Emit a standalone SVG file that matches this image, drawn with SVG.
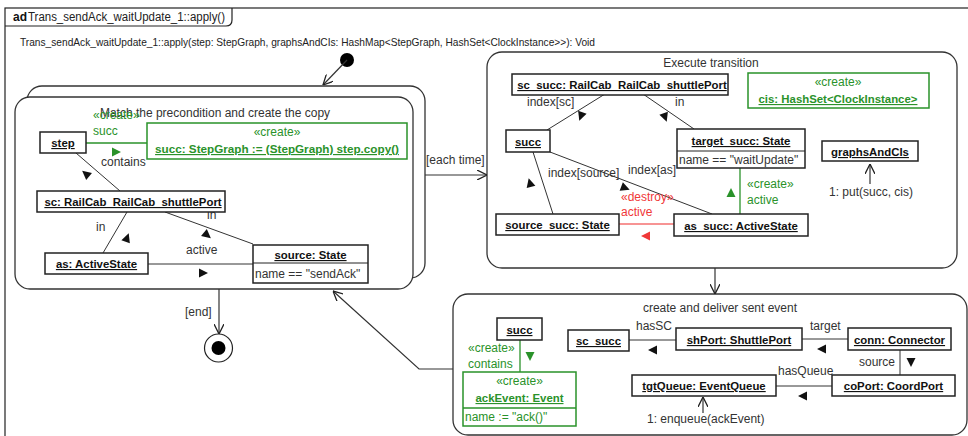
<svg xmlns="http://www.w3.org/2000/svg" xmlns:xlink="http://www.w3.org/1999/xlink" width="968" height="436" viewBox="0 0 968 436">
<style>
text { font-family: "Liberation Sans", Arial, sans-serif; font-size: 12px; fill: #333; }
.nm { font-weight: bold; font-size: 11.4px; text-decoration: underline; text-anchor: middle; fill: #111; }
.c { text-anchor: middle; }
.g { fill: #2a922a; }
.r { fill: #f03838; }
.box { fill: #fff; stroke: #222; stroke-width: 1.5; }
.gbox { fill: #fff; stroke: #2a922a; stroke-width: 1.5; }
.act { fill: #fff; stroke: #333; stroke-width: 1.3; }
.ln { stroke: #333; stroke-width: 1; fill: none; }
.gl { stroke: #2a922a; stroke-width: 1.3; fill: none; }
.rl { stroke: #f57070; stroke-width: 1.5; fill: none; }
.gy { stroke: #777; stroke-width: 1.5; fill: none; }
.arr { stroke: #333; stroke-width: 1.2; fill: none; marker-end: url(#oa); }
</style>
<defs>
<marker id="oa" viewBox="0 0 10 10" refX="10" refY="5" markerWidth="10" markerHeight="10" markerUnits="userSpaceOnUse" orient="auto">
<path d="M0,0 L10,5 L0,10" fill="none" stroke="#222" stroke-width="1.3"/>
</marker>
<path id="tri" d="M-4,-4.5 L5,0 L-4,4.5 Z"/>
</defs>
<rect width="968" height="436" fill="#fff"/>

<g id="frame">
<rect x="5" y="8" width="990" height="440" fill="none" stroke="#222" stroke-width="1.2"/>
<path d="M5,26 H226 Q232,26 232,20 V8" fill="none" stroke="#222" stroke-width="1.2"/>
<text x="13" y="21" style="font-weight:bold;fill:#111">ad</text>
<text x="28" y="21" style="fill:#222" textLength="197" lengthAdjust="spacingAndGlyphs">Trans_sendAck_waitUpdate_1::apply()</text>
<text x="20" y="46" style="fill:#222;font-size:11.6px" textLength="575" lengthAdjust="spacingAndGlyphs">Trans_sendAck_waitUpdate_1::apply(step: StepGraph, graphsAndCIs: HashMap&lt;StepGraph, HashSet&lt;ClockInstance&gt;&gt;): Void</text>
</g>

<g id="initial"><circle cx="347" cy="60" r="7" fill="#000"/></g>

<g id="match">
<rect class="act" x="27" y="86" width="398" height="192" rx="15"/>
<rect class="act" x="15" y="97" width="398" height="192" rx="15"/>
<text class="c" x="215" y="117">Match the precondition and create the copy</text>
</g>

<g id="match-links">
<line class="gl" x1="86" y1="143" x2="147" y2="143"/>
<text x="93" y="119" class="g">«create»</text>
<text x="93" y="135" class="g">succ</text>
<use href="#tri" transform="translate(116,152)" fill="#2a922a"/>
<text x="101" y="166">contains</text>
<line class="ln" x1="76" y1="153" x2="120" y2="191"/>
<use href="#tri" transform="translate(86,174) rotate(220)" fill="#111"/>
<line class="ln" x1="127" y1="212" x2="103" y2="253"/>
<text x="96" y="231">in</text>
<use href="#tri" transform="translate(127,238) rotate(-70)" fill="#111"/>
<line class="ln" x1="165" y1="212" x2="253" y2="244"/>
<text x="207" y="219">in</text>
<use href="#tri" transform="translate(207,235) rotate(40)" fill="#111"/>
<text x="186" y="254">active</text>
<line class="ln" x1="148" y1="264" x2="253" y2="264"/>
<use href="#tri" transform="translate(203,273)" fill="#111"/>
</g>

<g id="step"><rect class="box" x="40" y="132" width="46" height="21"/><text class="nm" x="63" y="147">step</text></g>
<g id="succ-copy"><rect class="gbox" x="147" y="123" width="260" height="36"/><text class="c g" x="277" y="136">«create»</text><text class="nm g" x="277" y="153" style="fill:#2a922a;font-size:11.7px">succ: StepGraph := (StepGraph) step.copy()</text></g>
<g id="sc"><rect class="box" x="37" y="191" width="188" height="21"/><text class="nm" x="133" y="206">sc: RailCab_RailCab_shuttlePort</text></g>
<g id="as"><rect class="box" x="45" y="253" width="103" height="21"/><text class="nm" x="96.5" y="268">as: ActiveState</text></g>
<g id="source"><rect class="box" x="253" y="245" width="115" height="38"/><line class="ln" x1="253" y1="263" x2="368" y2="263" style="stroke:#222"/><text class="nm" x="310.5" y="259">source: State</text><text x="255" y="278">name == "sendAck"</text></g>

<g id="final"><circle cx="218.5" cy="348" r="14" fill="#fff" stroke="#222" stroke-width="1.2"/><circle cx="218.5" cy="348" r="7" fill="#000"/></g>

<g id="execute">
<rect class="act" x="487" y="52" width="470" height="216" rx="15"/>
<text class="c" x="711" y="67">Execute transition</text>
</g>
<g id="exec-links">
<line class="ln" x1="605" y1="94" x2="547" y2="130"/>
<text x="527" y="106">index[sc]</text>
<use href="#tri" transform="translate(581,116) rotate(110)" fill="#111"/>
<line class="ln" x1="643" y1="94" x2="694" y2="129"/>
<text x="675" y="106">in</text>
<use href="#tri" transform="translate(665,117) rotate(70)" fill="#111"/>
<line class="ln" x1="533" y1="152" x2="553" y2="214"/>
<use href="#tri" transform="translate(530,183) rotate(-105)" fill="#111"/>
<text x="548" y="177">index[source]</text>
<line class="ln" x1="550" y1="152" x2="712" y2="214"/>
<text x="628" y="174">index[as]</text>
<use href="#tri" transform="translate(625,188) rotate(21)" fill="#111"/>
<line class="rl" x1="619" y1="224" x2="674" y2="224"/>
<text x="621" y="201" class="r">«destroy»</text>
<text x="621" y="216" class="r">active</text>
<use href="#tri" transform="translate(646,236) rotate(180)" fill="#f03838"/>
<line class="gl" x1="740" y1="168" x2="740" y2="214"/>
<use href="#tri" transform="translate(731,193) rotate(-90)" fill="#2a922a"/>
<text x="747" y="188" class="g">«create»</text>
<text x="747" y="204" class="g">active</text>
<line class="arr" x1="870" y1="184" x2="870" y2="164"/>
<text x="829" y="196">1: put(succ, cis)</text>
</g>
<g id="sc_succ"><rect class="box" x="512" y="74" width="216" height="21"/><text class="nm" x="622" y="89">sc_succ: RailCab_RailCab_shuttlePort</text></g>
<g id="cis"><rect class="gbox" x="748" y="73" width="181" height="35"/><text class="c g" x="838" y="86">«create»</text><text class="nm" x="838" y="103" style="fill:#2a922a">cis: HashSet&lt;ClockInstance&gt;</text></g>
<g id="succ1"><rect class="box" x="506" y="130" width="44" height="22"/><text class="nm" x="528" y="146">succ</text></g>
<g id="target_succ"><rect class="box" x="677" y="129" width="128" height="39"/><line x1="677" y1="151" x2="805" y2="151" stroke="#222" stroke-width="1"/><text class="nm" x="741" y="145">target_succ: State</text><text x="679" y="164">name == "waitUpdate"</text></g>
<g id="graphsAndCIs"><rect class="box" x="822" y="141" width="96" height="20"/><text class="nm" x="870" y="156">graphsAndCIs</text></g>
<g id="source_succ"><rect class="box" x="496" y="214" width="123" height="21"/><text class="nm" x="557.5" y="229">source_succ: State</text></g>
<g id="as_succ"><rect class="box" x="674" y="214" width="134" height="22"/><text class="nm" x="741" y="230">as_succ: ActiveState</text></g>

<g id="deliver">
<rect class="act" x="453" y="294" width="514" height="141" rx="15"/>
<text class="c" x="720" y="312">create and deliver sent event</text>
</g>
<g id="deliver-links">
<line class="gl" x1="520" y1="340" x2="520" y2="372"/>
<text x="468" y="352" class="g">«create»</text>
<text x="468" y="368" class="g">contains</text>
<use href="#tri" transform="translate(530,356) rotate(90)" fill="#2a922a"/>
<line class="ln" x1="629" y1="340" x2="676" y2="340"/>
<text x="636" y="330">hasSC</text>
<use href="#tri" transform="translate(653,350) rotate(180)" fill="#111"/>
<line class="ln" x1="802" y1="339" x2="848" y2="339"/>
<text x="810" y="330">target</text>
<use href="#tri" transform="translate(822,349) rotate(180)" fill="#111"/>
<line class="gy" x1="900" y1="350" x2="900" y2="375"/>
<text x="859" y="366">source</text>
<use href="#tri" transform="translate(911,362) rotate(90)" fill="#111"/>
<line class="ln" x1="776" y1="386" x2="832" y2="386"/>
<text x="778" y="375">hasQueue</text>
<use href="#tri" transform="translate(803,396) rotate(180)" fill="#111"/>
<line class="arr" x1="703" y1="413" x2="703" y2="397"/>
<text x="647" y="423">1: enqueue(ackEvent)</text>
</g>
<g id="succ2"><rect class="box" x="497" y="318" width="45" height="22"/><text class="nm" x="519.5" y="334">succ</text></g>
<g id="ackEvent"><rect class="gbox" x="463" y="372" width="113" height="54"/><line x1="463" y1="408" x2="576" y2="408" stroke="#2a922a" stroke-width="1.3"/><text class="c g" x="519.5" y="385">«create»</text><text class="nm" x="519.5" y="402" style="fill:#2a922a">ackEvent: Event</text><text x="465" y="421" class="g">name := "ack()"</text></g>
<g id="sc_succ2"><rect class="box" x="568" y="330" width="61" height="21"/><text class="nm" x="598.5" y="345">sc_succ</text></g>
<g id="shPort"><rect class="box" x="676" y="328" width="126" height="22"/><text class="nm" x="739" y="344">shPort: ShuttlePort</text></g>
<g id="conn"><rect class="box" x="848" y="328" width="103" height="22"/><text class="nm" x="899.5" y="344">conn: Connector</text></g>
<g id="tgtQueue"><rect class="box" x="632" y="375" width="144" height="21"/><text class="nm" x="704" y="390">tgtQueue: EventQueue</text></g>
<g id="coPort"><rect class="box" x="832" y="375" width="123" height="21"/><text class="nm" x="893.5" y="390">coPort: CoordPort</text></g>

<g id="connectors">
<line class="arr" x1="347" y1="60" x2="323" y2="85"/>
<line class="arr" x1="425" y1="175" x2="487" y2="175"/>
<text x="426" y="164">[each time]</text>
<line class="arr" x1="715" y1="268" x2="715" y2="294"/>
<polyline class="arr" points="453,369 419,369 333,291"/>
<line class="arr" x1="219" y1="289" x2="219" y2="334"/>
<text x="185" y="316">[end]</text>
</g>
</svg>
